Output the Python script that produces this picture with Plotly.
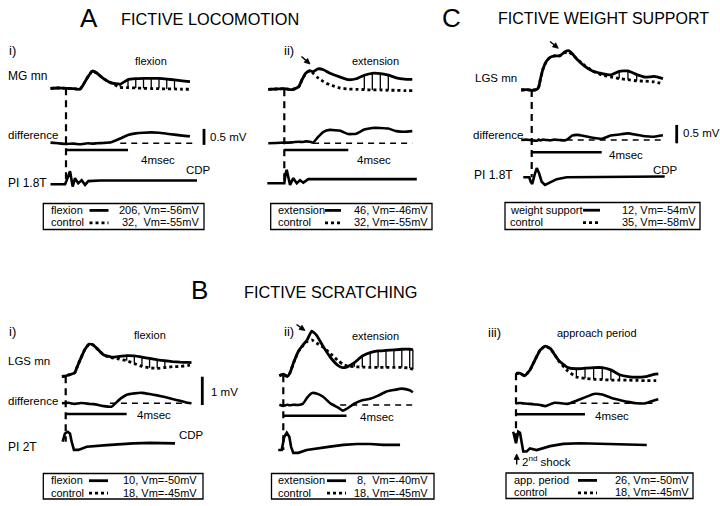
import math
import plotly.graph_objects as go

W, H = 720, 506
FONT = "Liberation Sans, Arial, Helvetica, sans-serif"

# ---------------- data: time (ms from stimulus), potential (mV) ----------------
# A i) fictive locomotion, flexion (MG mn)
T_Ai = [-1.0, -0.5, 0, 0.5, 0.9, 1.1, 1.4, 1.7, 2.0, 2.4, 2.9, 3.5, 4.0, 4.5, 5.0, 5.5, 6.0, 6.5, 7.0, 7.5, 8.0]
MAIN_Ai = [0, 0.01, 0, -0.01, -0.03, 0.10, 0.35, 0.54, 0.47, 0.31, 0.17, 0.13, 0.27, 0.30, 0.31, 0.31, 0.31, 0.29, 0.26, 0.23, 0.21]
CTRL_Ai = [0, 0.01, 0, -0.01, -0.03, 0.10, 0.35, 0.54, 0.47, 0.31, 0.17, 0.03, 0.02, 0.01, 0.0, -0.01, -0.01, -0.02, -0.02, -0.03, -0.03]
DIFF_Ai = [0.02, 0.0, -0.02, -0.01, -0.03, -0.02, 0.0, -0.01, 0.0, 0.01, 0.03, 0.15, 0.26, 0.31, 0.33, 0.34, 0.33, 0.30, 0.27, 0.24, 0.22]
PI_T_Ai = [-1.0, -0.06, 0.05, 0.26, 0.43, 0.58, 0.79, 1.01, 1.23, 1.44, 2.2, 8.45]
PI_Ai = [0, 0, 0.13, 0.41, -0.07, 0.19, 0.03, 0.13, -0.02, 0.10, 0.12, 0.12]
HATCH_Ai = [3.5, 7.0]
ZERO_Ai = [3.5, 8.3]

# A ii) fictive locomotion, extension (MG mn)
T_Aii = [-1.0, -0.5, 0, 0.5, 0.9, 1.1, 1.35, 1.6, 1.8, 2.1, 2.45, 2.85, 3.5, 4.0, 4.5, 5.0, 5.5, 6.0, 6.5, 7.0, 7.5, 8.0]
MAIN_Aii = [0, 0.01, 0.02, -0.01, 0.08, 0.29, 0.51, 0.58, 0.55, 0.64, 0.61, 0.50, 0.38, 0.30, 0.33, 0.44, 0.50, 0.49, 0.44, 0.36, 0.32, 0.31]
CTRL_Aii = [0, 0.01, 0.02, -0.01, 0.08, 0.29, 0.51, 0.58, 0.50, 0.36, 0.24, 0.14, 0.04, 0.01, 0.0, -0.01, -0.02, -0.02, -0.03, -0.03, -0.04, -0.04]
DIFF_Aii = [0.0, 0.01, 0.02, 0.03, 0.05, 0.04, 0.06, 0.05, 0.02, 0.19, 0.36, 0.42, 0.39, 0.29, 0.30, 0.43, 0.48, 0.48, 0.46, 0.38, 0.36, 0.38]
PI_T_Aii = [-1.06, -0.16, 0.0, 0.08, 0.15, 0.36, 0.56, 0.78, 0.98, 1.19, 1.5, 8.28]
PI_Aii = [0, 0, 0.0, 0.30, 0.42, -0.05, 0.16, 0.0, 0.10, 0.02, 0.13, 0.13]
HATCH_Aii = [4.9, 6.7]
ZERO_Aii = [1.8, 8.0]

# C) fictive weight support (LGS mn)
T_C = [-0.6, -0.3, 0, 0.3, 0.4, 0.5, 0.65, 0.85, 1.05, 1.3, 1.6, 1.9, 2.1, 2.3, 2.6, 3.0, 3.5, 4.0, 4.5, 5.0, 5.5, 6.0, 6.5, 7.0, 7.5]
MAIN_C = [0, 0.01, -0.01, 0.02, 0.08, 0.30, 0.58, 0.79, 0.89, 0.93, 0.93, 1.04, 1.07, 1.00, 0.83, 0.66, 0.51, 0.45, 0.41, 0.51, 0.52, 0.42, 0.35, 0.37, 0.31]
CTRL_C = [0, 0.01, -0.01, 0.02, 0.08, 0.30, 0.58, 0.79, 0.89, 0.93, 0.93, 1.02, 1.03, 0.97, 0.84, 0.68, 0.51, 0.41, 0.36, 0.31, 0.28, 0.25, 0.24, 0.22, 0.17]
DIFF_C = [0, 0.01, -0.01, -0.02, 0.01, -0.01, 0.01, 0, -0.01, 0.01, 0, -0.01, 0.04, 0.12, 0.14, 0.11, 0.06, 0.03, 0.12, 0.15, 0.18, 0.14, 0.10, 0.09, 0.13]
PI_T_C = [-0.48, -0.14, -0.06, 0.03, 0.19, 0.29, 0.42, 0.57, 0.76, 1.05, 1.43, 2.0, 3.15, 7.6]
PI_C = [0, 0, -0.12, -0.18, 0.11, 0.25, 0.11, -0.12, -0.21, -0.15, -0.05, 0, 0, 0.02]
HATCH_C = [4.9, 6.4]
ZERO_C = [2.0, 7.5]

# B i) fictive scratching, flexion (LGS mn)
T_Bi = [-0.25, 0, 0.2, 0.4, 0.6, 0.75, 1.0, 1.25, 1.55, 1.8, 2.15, 2.5, 3.0, 3.5, 4.0, 4.5, 5.0, 5.5, 6.0, 6.5, 7.0, 7.5, 8.0, 8.25]
MAIN_Bi = [0, 0.01, 0.05, 0.08, 0.13, 0.33, 0.65, 0.94, 1.14, 1.11, 0.93, 0.75, 0.68, 0.70, 0.73, 0.72, 0.68, 0.63, 0.58, 0.55, 0.52, 0.50, 0.49, 0.48]
CTRL_Bi = [0, 0.01, 0.05, 0.08, 0.13, 0.33, 0.65, 0.94, 1.14, 1.11, 0.93, 0.75, 0.66, 0.61, 0.55, 0.45, 0.35, 0.30, 0.28, 0.31, 0.34, 0.35, 0.38, 0.40]
DIFF_Bi = [0, 0.01, 0.02, -0.01, -0.02, -0.01, 0.01, 0, -0.02, -0.03, -0.06, -0.10, -0.12, 0.12, 0.30, 0.35, 0.37, 0.33, 0.28, 0.22, 0.15, 0.09, 0.02, 0.0]
PI_T_Bi = [-0.2, -0.05, 0.13, 0.28, 0.39, 0.54, 0.83, 1.38, 2.69, 3.56, 4.43, 5.53, 6.62, 7.17]
PI_Bi = [0, 0.29, 0.35, 0.29, 0, -0.29, -0.29, -0.18, -0.12, -0.08, -0.06, -0.04, -0.06, -0.06]
HATCH_Bi = [3.5, 6.6]
ZERO_Bi = [2.9, 8.2]

# B ii) fictive scratching, extension (LGS mn)
T_Bii = [-0.25, 0, 0.25, 0.4, 0.65, 0.95, 1.25, 1.5, 1.8, 2.1, 2.5, 3.0, 3.5, 3.75, 4.0, 4.5, 5.0, 5.5, 6.0, 6.5, 7.0, 7.5, 8.0, 8.2]
MAIN_Bii = [-0.02, 0.04, -0.04, 0.06, 0.44, 0.84, 1.08, 1.24, 1.56, 1.42, 1.04, 0.62, 0.33, 0.27, 0.29, 0.45, 0.68, 0.80, 0.86, 0.88, 0.90, 0.92, 0.92, 0.91]
CTRL_Bii = [-0.02, 0.04, -0.04, 0.06, 0.44, 0.84, 1.05, 1.19, 1.25, 1.14, 1.00, 0.76, 0.50, 0.40, 0.34, 0.30, 0.29, 0.28, 0.28, 0.28, 0.28, 0.28, 0.25, 0.21]
DIFF_Bii = [0.01, -0.03, 0.01, -0.01, 0.01, 0.0, 0.05, 0.25, 0.42, 0.41, 0.30, 0.05, -0.10, -0.20, -0.14, 0.05, 0.17, 0.22, 0.33, 0.47, 0.53, 0.58, 0.52, 0.45]
PI_T_Bii = [-0.32, -0.1, 0.06, 0.22, 0.38, 0.49, 0.63, 0.95, 1.48, 2.11, 2.96, 3.8, 4.65, 5.49, 6.33, 7.39]
PI_Bii = [0, 0, 0.47, 0.61, 0.47, 0.12, -0.10, -0.10, 0, 0.06, 0.12, 0.18, 0.21, 0.21, 0.18, 0.18]
HATCH_Bii = [4.4, 8.2]
ZERO_Bii = [3.6, 8.2]

# B iii) fictive scratching, approach period (LGS mn)
T_Biii = [0, 0.25, 0.5, 0.8, 1.1, 1.4, 1.7, 2.0, 2.25, 2.5, 3.0, 3.5, 4.0, 4.5, 5.0, 5.5, 6.0, 6.5, 7.0, 7.5, 8.0, 8.25]
MAIN_Biii = [0, 0.0, -0.09, 0.11, 0.47, 0.82, 0.96, 0.87, 0.65, 0.44, 0.20, 0.16, 0.18, 0.20, 0.20, 0.12, -0.05, -0.12, -0.14, -0.12, -0.04, -0.02]
CTRL_Biii = [0, 0.0, -0.09, 0.11, 0.47, 0.82, 0.96, 0.87, 0.65, 0.42, 0.08, -0.13, -0.18, -0.21, -0.22, -0.24, -0.24, -0.24, -0.25, -0.26, -0.26, -0.26]
DIFF_Biii = [0, 0.01, -0.01, -0.02, -0.04, -0.06, -0.10, -0.03, 0.02, 0.01, -0.02, 0.09, 0.21, 0.33, 0.31, 0.20, 0.12, 0.05, 0.0, 0.0, 0.10, 0.14]
PI_T_Biii = [-0.16, 0, 0.13, 0.23, 0.42, 0.62, 0.81, 1.2, 1.97, 2.74, 3.71, 5.06, 6.22, 7.58]
PI_Biii = [0.41, 0, 0.41, 0.37, -0.29, -0.29, -0.18, -0.24, -0.10, -0.02, 0, -0.02, -0.06, -0.06]
HATCH_Biii = [3.1, 6.2]
ZERO_Biii = [3.1, 8.2]

# legend texts
LEG_Ai = ["flexion", "control", "206, Vm=-56mV", "32,\u00a0 Vm=-55mV"]
LEG_Aii = ["extension", "control", "46, Vm=-46mV", "32, Vm=-55mV"]
LEG_C = ["weight support", "control", "12, Vm=-54mV", "35, Vm=-58mV"]
LEG_Bi = ["flexion", "control", "10, Vm=-50mV", "18, Vm=-45mV"]
LEG_Bii = ["extension", "control", "8,\u00a0 Vm=-40mV", "18, Vm=-45mV"]
LEG_Biii = ["app. period", "control", "26, Vm=-50mV", "18, Vm=-45mV"]

# ---------------- geometry (pixels) ----------------
PANELS = [
    dict(t=T_Ai, main=MAIN_Ai, ctrl=CTRL_Ai, diff=DIFF_Ai, pit=PI_T_Ai, pi=PI_Ai, hatch=HATCH_Ai, zero=ZERO_Ai, leg=LEG_Ai,
         t0=66, ppms=15.5, ppmv=32, base=(88.3, 143.3, 184.3), xdom=(0, 238), ydom=(28, 200), bar_y=150,
         msec=(158, 160), mvbar=(204, -0.05, 0.5, "0.5 mV", 209, 137), cdp=(198.5, 170),
         box=(43.3, 203.5, 204, 229.5), lx=50, ly=(209.9, 222.3), sx=(89.5, 108.5), rx=199.5),
    dict(t=T_Aii, main=MAIN_Aii, ctrl=CTRL_Aii, diff=DIFF_Aii, pit=PI_T_Aii, pi=PI_Aii, hatch=HATCH_Aii, zero=ZERO_Aii, leg=LEG_Aii,
         t0=284.3, ppms=16, ppmv=32, base=(89.3, 143.3, 183.3), xdom=(240, 440), ydom=(28, 200), bar_y=150,
         msec=(374, 160), mvbar=None, cdp=None,
         box=(270.7, 203.5, 432, 229.5), lx=276.7, ly=(209.9, 222.3), sx=(325, 341), rx=428.5),
    dict(t=T_C, main=MAIN_C, ctrl=CTRL_C, diff=DIFF_C, pit=PI_T_C, pi=PI_C, hatch=HATCH_C, zero=ZERO_C, leg=LEG_C,
         t0=531.7, ppms=17.5, ppmv=36.7, base=(90, 140, 177.3), xdom=(468, 720), ydom=(28, 200), bar_y=152.3,
         msec=(626, 154.5), mvbar=(676.7, -0.09, 0.5, "0.5 mV", 682, 133.5), cdp=(665, 170),
         box=(505, 202.5, 700, 229.5), lx=508.5, ly=(209.7, 222.1), sx=(583, 600), rx=697),
    dict(t=T_Bi, main=MAIN_Bi, ctrl=CTRL_Bi, diff=DIFF_Bi, pit=PI_T_Bi, pi=PI_Bi, hatch=HATCH_Bi, zero=ZERO_Bi, leg=LEG_Bi,
         t0=65.7, ppms=15.25, ppmv=28.3, base=(376.3, 403.3, 441.7), xdom=(0, 238), ydom=(318, 472), bar_y=414,
         msec=(153.5, 415), mvbar=(202.3, -0.06, 1.0, "1 mV", 210, 391.7), cdp=(191.7, 435),
         box=(43.3, 473.5, 203, 499), lx=50, ly=(480.2, 492.6), sx=(89, 108), rx=197.5),
    dict(t=T_Bii, main=MAIN_Bii, ctrl=CTRL_Bii, diff=DIFF_Bii, pit=PI_T_Bii, pi=PI_Bii, hatch=HATCH_Bii, zero=ZERO_Bii, leg=LEG_Bii,
         t0=283.3, ppms=15.8, ppmv=28.3, base=(375.3, 405, 450), xdom=(240, 466), ydom=(318, 472), bar_y=415.7,
         msec=(376.7, 416.7), mvbar=None, cdp=None,
         box=(271.5, 473.5, 434, 499), lx=277, ly=(480.2, 492.6), sx=(327, 346), rx=429),
    dict(t=T_Biii, main=MAIN_Biii, ctrl=CTRL_Biii, diff=DIFF_Biii, pit=PI_T_Biii, pi=PI_Biii, hatch=HATCH_Biii, zero=ZERO_Biii, leg=LEG_Biii,
         t0=516, ppms=17.25, ppmv=28.3, base=(373.3, 403.3, 443.3), xdom=(468, 720), ydom=(318, 472), bar_y=414.3,
         msec=(611.7, 415.7), mvbar=None, cdp=None,
         box=(506, 473, 693, 498.5), lx=513, ly=(479.9, 492.3), sx=(578, 597), rx=690),
]


def X(p):
    return p / W


def Y(p):
    return 1 - p / H


fig = go.Figure()
layout = {}
shapes = []
annots = []

BLACK = "black"


def txt(x, y, s, size=11.5, anchor="left"):
    annots.append(dict(x=X(x), y=Y(y), xref="paper", yref="paper", text=s, showarrow=False,
                       xanchor=anchor, yanchor="middle", borderpad=0,
                       font=dict(family=FONT, size=size, color=BLACK)))


for i, P in enumerate(PANELS, start=1):
    xn = "x" if i == 1 else f"x{i}"
    xk = "xaxis" if i == 1 else f"xaxis{i}"
    yn = []
    x0, x1 = P["xdom"]
    y0, y1 = P["ydom"]
    for r in range(3):
        j = 3 * (i - 1) + r + 1
        yname = "y" if j == 1 else f"y{j}"
        ykey = "yaxis" if j == 1 else f"yaxis{j}"
        b = P["base"][r]
        layout[ykey] = dict(domain=[Y(y1), Y(y0)], range=[(b - y1) / P["ppmv"], (b - y0) / P["ppmv"]],
                            visible=False, anchor=xn, fixedrange=True)
        yn.append(yname)
    layout[xk] = dict(domain=[X(x0), X(x1)], range=[(x0 - P["t0"]) / P["ppms"], (x1 - P["t0"]) / P["ppms"]],
                      visible=False, anchor=yn[0], fixedrange=True)

    t = P["t"]
    # control (dotted)
    fig.add_trace(go.Scatter(x=t, y=P["ctrl"], mode="lines", xaxis=xn, yaxis=yn[0], showlegend=False,
                             line=dict(color=BLACK, width=2.8, dash="3px,3px", shape="spline", smoothing=0.4)))
    # hatching between test and control
    hx, hy = [], []
    for tt, a, c in zip(t, P["main"], P["ctrl"]):
        if P["hatch"][0] <= tt <= P["hatch"][1]:
            hx += [tt, tt, None]
            hy += [c, a, None]
    fig.add_trace(go.Scatter(x=hx, y=hy, mode="lines", xaxis=xn, yaxis=yn[0], showlegend=False,
                             line=dict(color=BLACK, width=1.3)))
    # test (solid)
    fig.add_trace(go.Scatter(x=t, y=P["main"], mode="lines", xaxis=xn, yaxis=yn[0], showlegend=False,
                             line=dict(color=BLACK, width=2.8, shape="spline", smoothing=0.4)))
    # difference
    fig.add_trace(go.Scatter(x=t, y=P["diff"], mode="lines", xaxis=xn, yaxis=yn[1], showlegend=False,
                             line=dict(color=BLACK, width=2.6, shape="spline", smoothing=0.4)))
    # cord dorsum potential
    fig.add_trace(go.Scatter(x=P["pit"], y=P["pi"], mode="lines", xaxis=xn, yaxis=yn[2], showlegend=False,
                             line=dict(color=BLACK, width=2.6)))

    # zero reference for the difference
    shapes.append(dict(type="line", xref=xn, yref=yn[1], x0=P["zero"][0], x1=P["zero"][1], y0=0, y1=0,
                       line=dict(color=BLACK, width=1.6, dash="6px,5px")))
    # stimulus marker (dashed vertical)
    shapes.append(dict(type="line", xref=xn, yref="paper", x0=0, x1=0, y0=Y(P["base"][0]), y1=Y(P["base"][2]),
                       line=dict(color=BLACK, width=2.2, dash="7px,5px")))
    # 4 ms scale bar
    shapes.append(dict(type="line", xref=xn, yref="paper", x0=0, x1=4, y0=Y(P["bar_y"]), y1=Y(P["bar_y"]),
                       line=dict(color=BLACK, width=2.6)))
    txt(P["msec"][0], P["msec"][1], "4msec", 11.5, "center")
    # mV scale bar
    if P["mvbar"]:
        bx, bv, blen, blab, lx_, ly_ = P["mvbar"]
        shapes.append(dict(type="line", xref="paper", yref=yn[1], x0=X(bx), x1=X(bx), y0=bv, y1=bv + blen,
                           line=dict(color=BLACK, width=2.8)))
        txt(lx_, ly_, blab, 11.5, "left")
    if P["cdp"]:
        txt(P["cdp"][0], P["cdp"][1], "CDP", 11.5, "center")

    # legend box
    bx0, by0, bx1, by1 = P["box"]
    shapes.append(dict(type="rect", xref="paper", yref="paper", x0=X(bx0), x1=X(bx1), y0=Y(by1), y1=Y(by0),
                       line=dict(color=BLACK, width=1.3), fillcolor="rgba(0,0,0,0)"))
    L = P["leg"]
    txt(P["lx"], P["ly"][0], L[0], 11)
    txt(P["lx"], P["ly"][1], L[1], 11)
    txt(P["rx"], P["ly"][0], L[2], 11, "right")
    txt(P["rx"], P["ly"][1], L[3], 11, "right")
    shapes.append(dict(type="line", xref="paper", yref="paper", x0=X(P["sx"][0]), x1=X(P["sx"][1]),
                       y0=Y(P["ly"][0] + 0.5), y1=Y(P["ly"][0] + 0.5), line=dict(color=BLACK, width=2.8)))
    shapes.append(dict(type="line", xref="paper", yref="paper", x0=X(P["sx"][0]), x1=X(P["sx"][1]),
                       y0=Y(P["ly"][1] + 0.5), y1=Y(P["ly"][1] + 0.5), line=dict(color=BLACK, width=2.8, dash="3px,3px")))

# ---------------- titles and labels ----------------
txt(89, 18, "A", 26, "center")
txt(120, 18.5, "FICTIVE LOCOMOTION", 16.3)
txt(451, 18, "C", 26, "center")
txt(497, 18.5, "FICTIVE WEIGHT SUPPORT", 16)
txt(199, 290, "B", 26, "center")
txt(243, 291.5, "FICTIVE SCRATCHING", 16.3)

txt(8, 51, "i)", 13)
txt(283, 51, "ii)", 13)
txt(8, 331, "i)", 13)
txt(283, 331, "ii)", 13)
txt(486.5, 332, "iii)", 13)

txt(150.8, 61, "flexion", 11, "center")
txt(375, 61, "extension", 11, "center")
txt(150, 335, "flexion", 11, "center")
txt(375, 336, "extension", 11, "center")
txt(597, 333, "approach period", 11, "center")

txt(6.5, 76, "MG mn", 12)
txt(6.5, 135, "difference", 11.5)
txt(6.5, 182.7, "PI 1.8T", 12)
txt(474, 78.3, "LGS mn", 11.5)
txt(472, 135, "difference", 11.5)
txt(473, 175, "PI 1.8T", 12)
txt(6.5, 360.7, "LGS mn", 11.5)
txt(6.5, 401, "difference", 11.5)
txt(6.5, 446.7, "PI 2T", 12)

txt(521, 460.5, "2<sup>nd</sup> shock", 11.5)


def arrow(hx, hy, tx, ty, head=5.5, half=2.6):
    """Small filled-head arrow drawn with shapes (pixel positions -> paper)."""
    dx, dy = hx - tx, hy - ty
    n = math.hypot(dx, dy)
    ux, uy = dx / n, dy / n
    bx, by = hx - ux * head, hy - uy * head
    px_, py_ = -uy * half, ux * half
    shapes.append(dict(type="line", xref="paper", yref="paper", x0=X(tx), y0=Y(ty), x1=X(bx), y1=Y(by),
                       line=dict(color=BLACK, width=1.4)))
    path = "M {:.5f} {:.5f} L {:.5f} {:.5f} L {:.5f} {:.5f} Z".format(
        X(hx), Y(hy), X(bx + px_), Y(by + py_), X(bx - px_), Y(by - py_))
    shapes.append(dict(type="path", xref="paper", yref="paper", path=path, fillcolor=BLACK,
                       line=dict(color=BLACK, width=0.8)))


arrow(310, 64, 301.5, 56.5)
arrow(558.3, 48.3, 550, 41.5)
arrow(305, 330.5, 296.5, 324.5)
arrow(516.7, 454, 516.7, 464.5)

fig.update_layout(width=W, height=H, margin=dict(l=0, r=0, t=0, b=0), paper_bgcolor="white",
                  plot_bgcolor="rgba(0,0,0,0)", showlegend=False, shapes=shapes, annotations=annots,
                  font=dict(family=FONT, color=BLACK), **layout)
fig.write_html("out.html", config={"displayModeBar": False, "staticPlot": True},
               post_script="document.body.style.margin='0px';document.body.style.overflow='hidden';")
